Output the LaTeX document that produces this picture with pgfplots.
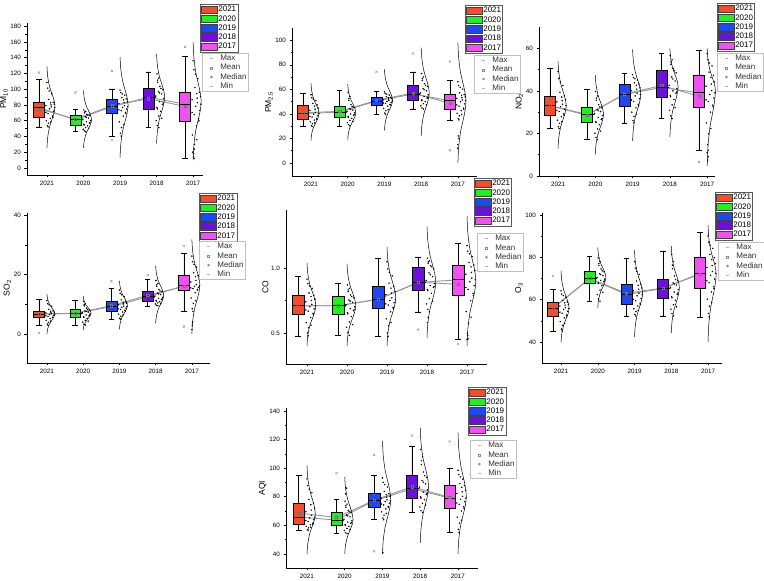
\documentclass[border=0pt]{standalone}
\usepackage{fontspec}
\setmainfont{Liberation Sans}
\usepackage{pgfplots}
\pgfplotsset{compat=1.18}
\usepgfplotslibrary{statistics}
\usepackage{pgfplotstable}

\definecolor{c21}{RGB}{243,77,45}
\definecolor{c20}{RGB}{32,240,32}
\definecolor{c19}{RGB}{32,72,240}
\definecolor{c18}{RGB}{108,16,220}
\definecolor{c17}{RGB}{240,82,240}
\definecolor{lnk}{RGB}{150,150,150}

% half-violin outlines (x = category + bulge)
\pgfplotstableread{
x pm10 pm25 no2 so2 co o3 aqi
1.00 25.5 18.4 12.9 0 0.404 39.7 40
1.02 38.6 23.8 17.9 1.7 0.48 43.8 47
1.07 51.75 29.2 22.95 3.35 0.557 47.85 54
1.13 60.5 32.8 26.3 4.5 0.608 50.6 58.7
1.19 69.25 36.4 29.65 5.6 0.659 53.3 63.3
1.22 78 40 33 6.7 0.71 56 68
1.19 86.5 44.15 36.5 7.8 0.765 58.9 73.65
1.13 95 48.3 40 8.9 0.82 61.8 79.3
1.07 103.5 52.45 43.5 10.05 0.875 64.75 84.95
1.02 116.25 58.7 48.75 11.7 0.957 69.1 93.4
1.00 129 64.9 54 13.4 1.039 73.5 101.9
nan nan nan nan nan nan nan nan
2.00 25.5 19 10.2 1.3 0.40 56.1 40
2.02 34.4 24.5 14.9 2.7 0.478 59.7 46
2.07 43.25 30 19.6 4.15 0.555 63.3 52
2.13 49.2 33.7 22.7 5.1 0.607 65.7 56
2.19 55.1 37.3 25.9 6.05 0.658 68.1 60
2.22 61 41 29 7 0.71 70.5 64
2.19 67.2 44.9 32.1 7.97 0.764 72.9 68.95
2.13 73.3 48.8 35.1 8.93 0.818 75.2 73.9
2.07 79.5 52.65 38.2 9.9 0.872 77.6 78.85
2.02 88.75 58.5 42.8 11.35 0.953 81.15 86.3
2.00 98 64.3 47.4 12.8 1.034 84.7 93.7
nan nan nan nan nan nan nan nan
3.00 13 26.5 16.5 1.6 0.40 42.4 40
3.02 29.75 32.6 22 3.6 0.4925 47.55 49.5
3.07 46.5 38.75 27.5 5.55 0.585 52.7 59
3.13 57.7 42.8 31.2 6.9 0.647 56.1 65.3
3.19 68.8 46.9 34.8 8.2 0.708 59.6 71.7
3.22 80 51 38.5 9.5 0.77 63 78
3.19 90.2 55.2 42 10.9 0.8355 66.4 84.8
3.13 100.3 59.4 45.5 12.3 0.901 69.8 91.7
3.07 110.5 63.6 49 13.7 0.9665 73.2 98.5
3.02 125.75 69.9 54.25 15.8 1.065 78.3 108.75
3.00 141 76.2 59.5 17.9 1.163 83.4 119
nan nan nan nan nan nan nan nan
4.00 31 22 18.4 3.6 0.464 44.3 47.7
4.02 45.75 30.75 24.3 5.95 0.5705 49.6 57.5
4.07 60.5 39.5 30.2 8.3 0.677 54.9 67.35
4.13 70.3 45.3 34.1 9.9 0.748 58.4 73.9
4.19 80.2 51.2 38.1 11.4 0.819 62 80.45
4.22 90 57 42 13 0.89 65.5 87
4.19 99.1 63.2 45 14.65 0.9615 68.8 93.8
4.13 108.2 69.3 48 16.3 1.033 72.1 100.7
4.07 117.4 75.5 51 17.95 1.1045 75.4 107.5
4.02 131 84.75 55.5 20.4 1.212 80.35 117.75
4.00 144.7 94 60 22.9 1.319 85.3 128
nan nan nan nan nan nan nan nan
5.00 10 0 4.6 0 0.40 40 40
5.02 28.5 12.5 13.45 4.1 0.525 48 50
5.07 47 25 22.3 8.25 0.65 56 60
5.13 59.3 33.3 28.2 11 0.733 61.3 66.7
5.19 71.7 41.7 34.1 13.75 0.817 66.7 73.3
5.22 84 50 40 16.5 0.9 72 80
5.19 96.7 58 43.3 19.05 0.983 75.9 87.5
5.13 109.3 66 46.7 21.6 1.067 79.8 95
5.07 122 74 50 24.15 1.15 83.65 102.5
5.02 141 86 55 28 1.275 89.5 113.75
5.00 160 98 60 31.8 1.40 95.3 125
}\curvetab

% scattered observations
\pgfplotstableread{
x pm10 pm25 no2 so2 co o3 aqi
1.01 53.5 30.5 23.1 3.3 0.50 46.1 57.1
1.04 56.6 32.0 24.7 3.9 0.54 47.9 58.2
0.98 59.7 33.5 26.2 4.6 0.58 49.6 59.3
1.09 62.8 35.0 27.8 5.2 0.62 51.4 60.4
1.15 65.8 36.3 29.2 5.65 0.651 52.7 61.5
1.03 68.9 37.4 30.3 5.95 0.668 53.6 62.7
1.18 72.0 38.6 31.4 6.25 0.685 54.5 64.0
1.07 75.1 39.7 32.5 6.55 0.702 55.4 65.2
1.12 77.5 41.2 33.7 6.84 0.72 56.2 67.0
0.97 79.2 42.9 34.8 7.1 0.74 57.0 69.5
1.20 80.9 44.7 36.0 7.4 0.76 57.7 71.9
1.10 82.6 46.4 37.1 7.66 0.78 58.5 74.4
1.05 87.0 48.5 39.3 8.3 0.808 59.65 78.0
1.13 94.1 50.9 42.5 9.3 0.844 61.15 82.8
1.02 101.3 53.2 45.8 10.2 0.879 62.65 87.7
1.00 108.4 55.6 49.0 11.2 0.915 64.15 92.5
2.02 47.1 31.2 18.1 3.3 0.503 60.3 54.9
1.99 49.2 32.9 20.1 4.0 0.544 62.4 56.4
2.06 51.3 34.7 22.1 4.6 0.586 64.5 57.8
2.11 53.4 36.4 24.1 5.3 0.627 66.6 59.3
2.01 55.3 37.8 25.6 5.76 0.656 67.9 60.5
2.16 56.9 38.8 26.5 6.1 0.671 68.5 61.4
2.08 58.6 39.9 27.5 6.4 0.687 69.1 62.3
2.19 60.2 40.9 28.4 6.74 0.702 69.7 63.2
1.98 61.8 42.0 29.4 7.08 0.719 70.45 64.4
2.14 63.3 43.1 30.3 7.4 0.736 71.35 65.9
2.05 64.9 44.3 31.2 7.8 0.754 72.25 67.3
2.17 66.4 45.4 32.1 8.1 0.771 73.15 68.8
2.09 68.1 47.6 33.5 8.7 0.793 74.5 70.6
2.03 69.9 50.9 35.6 9.5 0.819 76.2 72.7
2.06 71.8 54.1 37.6 10.2 0.844 78.0 74.8
2.01 73.6 57.4 39.7 11.0 0.870 79.7 76.9
3.01 44.0 40.7 26.0 5.3 0.501 53.0 65.1
3.04 51.3 42.6 28.0 6.0 0.555 54.3 67.2
2.98 58.5 44.5 30.0 6.7 0.609 55.7 69.4
3.09 65.8 46.4 32.0 7.4 0.663 57.0 71.5
3.15 70.5 47.7 33.7 8.0 0.698 58.3 73.2
3.03 72.6 48.5 35.0 8.3 0.715 59.5 74.3
3.18 74.7 49.3 36.3 8.7 0.733 60.6 75.5
3.07 76.8 50.1 37.6 9.0 0.750 61.8 76.6
3.12 79.1 50.9 38.9 9.4 0.771 63.0 77.8
2.97 81.6 51.6 40.1 9.8 0.796 64.2 79.0
3.20 84.0 52.4 41.4 10.3 0.820 65.5 80.3
3.10 86.5 53.1 42.6 10.7 0.845 66.7 81.5
3.05 89.3 54.1 43.8 11.5 0.884 68.8 83.7
3.13 92.5 55.4 45.1 12.6 0.939 71.9 86.8
3.02 95.6 56.7 46.3 13.7 0.993 74.9 90.0
3.00 98.8 58.0 47.6 14.8 1.048 78.0 93.1
4.02 54.0 44.9 28.3 9.7 0.683 53.4 70.3
3.99 60.0 46.6 30.8 10.1 0.724 55.5 72.8
4.06 65.9 48.3 33.4 10.5 0.765 57.6 75.4
4.11 71.9 50.0 35.9 10.9 0.806 59.7 77.9
4.01 76.8 51.5 37.8 11.3 0.834 61.4 79.9
4.16 80.5 52.8 38.9 11.6 0.850 62.5 81.5
4.08 84.2 54.2 40.0 12.0 0.865 63.6 83.2
4.19 88.0 55.5 41.1 12.3 0.881 64.7 84.8
3.98 91.2 57.1 42.6 12.75 0.904 65.8 86.7
4.14 94.0 58.8 44.6 13.25 0.934 66.9 89.0
4.05 96.7 60.6 46.5 13.75 0.963 67.9 91.3
4.17 99.5 62.3 48.5 14.25 0.993 69.0 93.6
4.09 103.5 64.6 50.5 15.0 1.018 71.2 97.3
4.03 108.8 67.4 52.5 16.0 1.037 74.6 102.5
4.06 114.1 70.1 54.6 17.0 1.056 77.9 107.8
4.01 119.4 72.9 56.6 18.0 1.075 81.3 113.0
5.01 18.0 36.2 14.7 8.5 0.498 53.5 57.2
5.04 29.9 38.4 19.8 10.3 0.575 56.9 61.5
4.98 41.8 40.5 24.9 12.1 0.665 60.2 65.7
5.09 53.7 42.7 30.0 13.9 0.748 63.6 70.0
5.15 62.3 44.7 33.3 15.0 0.805 66.2 73.0
5.03 67.6 46.4 35.0 15.3 0.835 68.0 74.7
5.18 72.9 48.2 36.6 15.7 0.864 69.7 76.5
5.07 78.2 49.9 38.3 16.0 0.894 71.5 78.2
5.12 82.8 51.4 40.1 16.6 0.923 73.3 80.2
4.97 86.6 52.6 42.2 17.5 0.952 75.2 82.3
5.20 90.5 53.9 44.2 18.4 0.980 77.0 84.5
5.10 94.3 55.1 46.3 19.3 1.009 78.9 86.6
5.05 101.9 57.2 48.8 20.6 1.044 81.3 89.2
5.13 113.3 60.2 51.7 22.5 1.087 84.2 92.3
5.02 124.6 63.1 54.6 24.3 1.130 87.2 95.4
5.00 136.0 66.1 57.5 26.2 1.173 90.1 98.5
1.03 52 29.7 22.3 3 0.479 45.2 56.5
1.10 58.2 32.7 25.5 4.3 0.561 48.8 58.7
1.16 64.3 35.7 28.6 5.5 0.643 52.3 60.9
0.97 70.5 38.0 30.9 6.1 0.677 54.1 63.4
1.21 76.6 40.3 33.1 6.7 0.71 55.8 65.8
1.11 80.0 43.8 35.4 7.3 0.75 57.4 70.7
1.17 83.4 47.3 37.7 7.8 0.79 58.9 75.6
1.06 97.7 52.1 44.2 9.8 0.862 61.9 85.3
2.06 46 30.3 17.1 3 0.482 59.3 54.2
2.14 50.3 33.8 21.1 4.3 0.565 63.5 57.1
2.02 54.5 37.3 25.1 5.6 0.648 67.6 60
2.18 57.8 39.4 27 6.3 0.679 68.8 61.9
1.96 61 41.4 28.9 6.9 0.71 70 63.7
2.08 64.1 43.7 30.7 7.6 0.745 71.8 66.6
2.12 67.2 46 32.5 8.3 0.78 73.6 69.5
2.03 70.9 52.5 36.6 9.9 0.832 77.1 73.7
3.03 40.4 39.7 25 4.9 0.474 52.3 64
3.10 54.9 43.5 29 6.4 0.582 55 68.3
3.16 69.4 47.3 33 7.8 0.689 57.7 72.6
2.97 73.7 48.9 35.7 8.5 0.724 60.1 74.9
3.21 77.9 50.5 38.3 9.2 0.759 62.4 77.2
3.11 82.8 52 40.8 10.1 0.808 64.9 79.7
3.17 87.7 53.5 43.2 10.9 0.857 67.3 82.1
3.06 94.1 56.1 45.7 13.2 0.966 73.4 88.4
4.06 51 44 27 9.5 0.663 52.3 69
4.14 63 47.4 32.1 10.3 0.745 56.6 74.1
4.02 74.9 50.8 37.2 11.1 0.826 60.8 79.1
4.18 82.4 53.5 39.4 11.8 0.858 63.1 82.4
3.96 89.8 56.2 41.6 12.5 0.889 65.3 85.6
4.08 95.4 59.7 45.6 13.5 0.949 67.4 90.2
4.12 100.9 63.2 49.5 14.5 1.008 69.5 94.7
4.03 111.5 68.8 53.6 16.5 1.047 76.3 105.2
5.03 12 35.1 12.1 7.6 0.456 51.8 55.1
5.10 35.8 39.5 22.3 11.2 0.623 58.6 63.6
5.16 59.6 43.8 32.5 14.8 0.79 65.3 72.1
4.97 70.3 47.3 35.8 15.5 0.85 68.9 75.6
5.21 80.9 50.8 39.1 16.2 0.909 72.4 79.1
5.11 88.6 53.3 43.2 18 0.966 76.1 83.4
5.17 96.2 55.7 47.3 19.7 1.023 79.8 87.7
5.06 119 61.7 53.1 23.4 1.109 85.7 93.9
}\dottab

\pgfplotsset{
  panel/.style={scale only axis, anchor=south west, clip=false,
    axis lines=left, axis line style={-, line width=0.6pt},
    xtick={1,2,3,4,5}, xticklabels={2021,2020,2019,2018,2017},
    tick align=outside, major tick length=2.5pt, minor tick length=1.5pt,
    tick style={line width=0.5pt, black}, minor y tick num=1,
    ticklabel style={font=\fontsize{6.3}{7}\selectfont},
    /pgf/number format/assume math mode=true,
    ylabel style={font=\fontsize{8.5}{9}\selectfont}, ylabel shift=-4pt,
    legend cell align=left,
    legend image code/.code={\draw[##1] (0pt,-3.7pt) rectangle (16pt,3.7pt);},
    legend style={anchor=north west, font=\fontsize{8}{9}\selectfont, draw=black!65, fill=white, line width=0.5pt,
      inner xsep=1pt, inner ysep=0.6pt, row sep=0pt,
      nodes={inner sep=0.6pt, text height=6.3pt, text depth=1.8pt},
      /tikz/every even column/.append style={column sep=2pt}},
    legend entries={2021,2020,2019,2018,2017}},
  lnkline/.style={lnk, line width=0.9pt},
  crv/.style={black, line width=0.5pt, smooth, tension=0.55, unbounded coords=jump},
  dts/.style={only marks, mark=*, mark size=0.5pt, mark options={draw=none, fill=black}},
  mn/.style={only marks, mark=square, mark size=1.1pt, mark options={draw=black!55, line width=0.4pt, fill=none}},
}

\newcommand\legone{\addlegendimage{fill=c21,draw=black!75}\addlegendimage{fill=c20,draw=black!75}\addlegendimage{fill=c19,draw=black!75}\addlegendimage{fill=c18,draw=black!75}\addlegendimage{fill=c17,draw=black!75}}

\newcommand\bx[7]{\addplot[draw=black, line width=0.5pt, fill=#1, boxplot prepared={draw direction=y, draw position=#2, lower whisker=#3, lower quartile=#4, median=#5, upper quartile=#6, upper whisker=#7, box extend=0.3, whisker extend=0.15, every median/.style={line width=0.9pt}}] coordinates {};}
\newcommand\bxo[8]{\addplot[draw=black, line width=0.5pt, fill=#1, mark=x, mark size=1.5pt, mark options={draw=black!45, line width=0.4pt}, boxplot prepared={draw direction=y, draw position=#2, lower whisker=#3, lower quartile=#4, median=#5, upper quartile=#6, upper whisker=#7, box extend=0.3, whisker extend=0.15, every median/.style={line width=0.9pt}}] table[row sep=\\, y index=0] {data\\ #8};}

\newcommand\legtwo[6]{%
\begin{axis}[scale only axis, anchor=south west, at={(#1pt,#2pt)}, width=#3pt, height=#4pt, hide axis,
  xmin=0, xmax=1, ymin=0, ymax=1, legend cell align=left,
  legend style={at={(#5,#6)}, anchor=north west, font=\fontsize{8}{9}\selectfont, text=black!80, draw=black!25, fill=white, line width=0.5pt,
    inner xsep=1pt, inner ysep=0.6pt, row sep=0pt,
    nodes={inner sep=0.6pt, text height=6.3pt, text depth=1.8pt},
    /tikz/every even column/.append style={column sep=2pt}},
  legend entries={Max,Mean,Median,Min}]
\addlegendimage{legend image code/.code={\path (0pt,0pt) (16pt,0pt);\draw[black!30,line width=0.4pt] (6.8pt,0pt)--(9.2pt,0pt);}}
\addlegendimage{legend image code/.code={\path (0pt,0pt) (16pt,0pt);\draw[black!45,line width=0.4pt] (7pt,-1pt) rectangle (9pt,1pt);}}
\addlegendimage{legend image code/.code={\path (0pt,0pt) (16pt,0pt);\fill[black!45] (8pt,0pt) circle (1pt);}}
\addlegendimage{legend image code/.code={\path (0pt,0pt) (16pt,0pt);\draw[black!30,line width=0.4pt] (6.8pt,0pt)--(9.2pt,0pt);}}
\end{axis}}

\begin{document}
\begin{tikzpicture}
\useasboundingbox (0pt,0pt) rectangle (764pt,581pt);
\clip (0pt,0pt) rectangle (764pt,581pt);

% ---------------- PM10 ----------------
\begin{axis}[panel, at={(27pt,406pt)}, width=176pt, height=152pt,
  xmin=0.454, xmax=5.27, ymin=-9, ymax=184, ytick={0,20,...,180},
  ylabel={PM\textsubscript{10}}, legend style={at={(0.983,1.125)}}]
\legone
\addplot[lnkline] coordinates {(0.78,75) (1.78,62) (2.78,79) (3.78,88) (4.78,78)};
\addplot[lnkline] coordinates {(0.78,76.6) (1.78,61) (2.78,77.9) (3.78,89.8) (4.78,80.9)};
\addplot[crv] table[x=x, y=pm10] {\curvetab};
\addplot[dts] table[x=x, y=pm10] {\dottab};
\addplot[dts] coordinates {(5.01,14) (4.99,20) (5.03,24)};
\bxo{c21}{0.78}{52}{64.3}{76.6}{83.4}{112}{121\\}
\bxo{c20}{1.78}{46}{54.5}{61}{67.2}{74.5}{95.7\\}
\bxo{c19}{2.78}{40.4}{69.4}{77.9}{87.7}{100.4}{35.3\\ 123\\}
\bx{c18}{3.78}{51}{74.9}{89.8}{100.9}{122}
\bxo{c17}{4.78}{12}{59.6}{80.9}{96.2}{141.7}{153.6\\}
\addplot[mn] coordinates {(0.78,75) (1.78,62) (2.78,79) (3.78,88) (4.78,78)};
\end{axis}
\legtwo{27}{406}{176}{152}{0.994}{0.803}

% ---------------- PM2.5 ----------------
\begin{axis}[panel, at={(292pt,405pt)}, width=185pt, height=148pt,
  xmin=0.483, xmax=5.52, ymin=-10.6, ymax=110, ytick={0,20,...,100},
  ylabel={PM\textsubscript{2.5}}, legend style={at={(0.935,1.155)}}]
\legone
\addplot[lnkline] coordinates {(0.78,41) (1.78,42) (2.78,51) (3.78,57) (4.78,48.6)};
\addplot[lnkline] coordinates {(0.78,40.3) (1.78,41.4) (2.78,50.5) (3.78,56.2) (4.78,50.8)};
\addplot[crv] table[x=x, y=pm25] {\curvetab};
\addplot[dts] table[x=x, y=pm25] {\dottab};
\addplot[dts] coordinates {(5.00,15) (5.02,20) (5.01,22) (4.99,12)};
\bx{c21}{0.78}{29.7}{35.7}{40.3}{47.3}{56.8}
\bx{c20}{1.78}{30.3}{37.3}{41.4}{46}{59}
\bxo{c19}{2.78}{39.7}{47.3}{50.5}{53.5}{58.6}{74.3\\}
\bxo{c18}{3.78}{44}{50.8}{56.2}{63.2}{74.3}{89.2\\}
\bxo{c17}{4.78}{35.1}{43.8}{50.8}{55.7}{67.6}{10.3\\ 82.7\\}
\addplot[mn] coordinates {(0.78,41) (1.78,42) (2.78,51) (3.78,57) (4.78,48.6)};
\end{axis}
\legtwo{292}{405}{185}{148}{0.984}{0.818}

% ---------------- NO2 ----------------
\begin{axis}[panel, at={(539pt,405pt)}, width=176pt, height=149pt,
  xmin=0.49, xmax=5.21, ymin=0, ymax=70, ytick={0,20,40,60},
  ylabel={NO\textsubscript{2}}, legend style={at={(1.011,1.161)}}]
\legone
\addplot[lnkline] coordinates {(0.78,33) (1.78,28.5) (2.78,38.5) (3.78,42.5) (4.78,37.5)};
\addplot[lnkline] coordinates {(0.78,33.1) (1.78,28.9) (2.78,38.3) (3.78,41.6) (4.78,39.1)};
\addplot[crv] table[x=x, y=no2] {\curvetab};
\addplot[dts] table[x=x, y=no2] {\dottab};
\addplot[dts] coordinates {(5.01,7.5) (5.03,9) (5.00,11)};
\bx{c21}{0.78}{22.3}{28.6}{33.1}{37.7}{50.6}
\bx{c20}{1.78}{17.1}{25.1}{28.9}{32.5}{40.7}
\bx{c19}{2.78}{25}{33}{38.3}{43.2}{48.2}
\bx{c18}{3.78}{27}{37.2}{41.6}{49.5}{57.6}
\bxo{c17}{4.78}{12.1}{32.5}{39.1}{47.3}{58.9}{6.6\\}
\addplot[mn] coordinates {(0.78,33) (1.78,28.5) (2.78,38.5) (3.78,42.5) (4.78,37.5)};
\end{axis}
\legtwo{539}{405}{176}{149}{1.011}{0.826}

% ---------------- SO2 ----------------
\begin{axis}[panel, at={(27pt,218pt)}, width=183pt, height=150pt,
  xmin=0.45, xmax=5.5, ymin=-9.75, ymax=40.7, ytick={0,20,40},
  ylabel={SO\textsubscript{2}}, legend style={at={(0.94,1.133)}}]
\legone
\addplot[lnkline] coordinates {(0.78,6.7) (1.78,7) (2.78,9.5) (3.78,13) (4.78,16)};
\addplot[lnkline] coordinates {(0.78,6.7) (1.78,6.9) (2.78,9.2) (3.78,12.5) (4.78,16.2)};
\addplot[crv] table[x=x, y=so2] {\curvetab};
\addplot[dts] table[x=x, y=so2] {\dottab};
\addplot[dts] coordinates {(5.01,3) (5.02,4) (5.00,1.5)};
\bxo{c21}{0.78}{3}{5.5}{6.7}{7.8}{11.7}{0.4\\}
\bx{c20}{1.78}{3}{5.6}{6.9}{8.3}{11.4}
\bxo{c19}{2.78}{4.9}{7.8}{9.2}{10.9}{15.4}{17.8\\}
\bxo{c18}{3.78}{9.5}{11.1}{12.5}{14.5}{18.5}{19.8\\}
\bxo{c17}{4.78}{7.6}{14.8}{16.2}{19.7}{27.1}{2.5\\ 29.7\\}
\addplot[mn] coordinates {(0.78,6.7) (1.78,7) (2.78,9.5) (3.78,13) (4.78,16)};
\end{axis}
\legtwo{27}{218}{183}{150}{0.94}{0.813}

% ---------------- CO ----------------
\begin{axis}[panel, at={(286pt,217pt)}, width=201pt, height=154pt,
  xmin=0.475, xmax=5.5, ymin=0.262, ymax=1.446, ytick={0.5,1.0},
  yticklabel style={/pgf/number format/.cd, fixed, fixed zerofill, precision=1},
  ylabel={CO}, legend style={at={(0.935,1.208)}}]
\legone
\addplot[lnkline] coordinates {(0.78,0.71) (1.78,0.71) (2.78,0.76) (3.78,0.89) (4.78,0.875)};
\addplot[lnkline] coordinates {(0.78,0.71) (1.78,0.71) (2.78,0.759) (3.78,0.889) (4.78,0.909)};
\addplot[crv] table[x=x, y=co] {\curvetab};
\addplot[dts] table[x=x, y=co] {\dottab};
\addplot[dts] coordinates {(4.01,0.58) (4.03,0.62) (5.00,0.45) (5.02,0.48)};
\bx{c21}{0.78}{0.479}{0.643}{0.71}{0.79}{0.933}
\bx{c20}{1.78}{0.482}{0.648}{0.71}{0.78}{0.883}
\bx{c19}{2.78}{0.474}{0.689}{0.759}{0.857}{1.075}
\bxo{c18}{3.78}{0.663}{0.826}{0.889}{1.008}{1.085}{0.526\\}
\bxo{c17}{4.78}{0.456}{0.79}{0.909}{1.023}{1.194}{0.417\\}
\addplot[mn] coordinates {(0.78,0.71) (1.78,0.71) (2.78,0.76) (3.78,0.89) (4.78,0.875)};
\end{axis}
\legtwo{286}{217}{201}{154}{0.95}{0.85}

% ---------------- O3 ----------------
\begin{axis}[panel, at={(542pt,218pt)}, width=180pt, height=150pt,
  xmin=0.483, xmax=5.38, ymin=30.1, ymax=100.9, ytick={40,60,80,100},
  ylabel={O\textsubscript{3}}, legend style={at={(0.961,1.14)}}]
\legone
\addplot[lnkline] coordinates {(0.78,56) (1.78,70) (2.78,63) (3.78,65.5) (4.78,72)};
\addplot[lnkline] coordinates {(0.78,55.8) (1.78,70) (2.78,62.4) (3.78,65.3) (4.78,72.4)};
\addplot[crv] table[x=x, y=o3] {\curvetab};
\addplot[dts] table[x=x, y=o3] {\dottab};
\bxo{c21}{0.78}{45.2}{52.3}{55.8}{58.9}{64.9}{71.1\\}
\bx{c20}{1.78}{59.3}{67.6}{70}{73.6}{80.6}
\bx{c19}{2.78}{52.3}{57.7}{62.4}{67.3}{79.5}
\bx{c18}{3.78}{52.3}{60.8}{65.3}{69.5}{83}
\bx{c17}{4.78}{51.8}{65.3}{72.4}{79.8}{91.6}
\addplot[mn] coordinates {(0.78,56) (1.78,70) (2.78,63) (3.78,65.5) (4.78,72)};
\end{axis}
\legtwo{542}{218}{180}{150}{0.978}{0.807}

% ---------------- AQI ----------------
\begin{axis}[panel, at={(286pt,13pt)}, width=192pt, height=160pt,
  xmin=0.444, xmax=5.53, ymin=30.2, ymax=142, ytick={40,60,...,140},
  ylabel={AQI}, legend style={at={(0.948,1.131)}}]
\legone
\addplot[lnkline] coordinates {(0.78,68.6) (1.78,65.5) (2.78,77.5) (3.78,87) (4.78,79.5)};
\addplot[lnkline] coordinates {(0.78,65.8) (1.78,63.7) (2.78,77.2) (3.78,85.6) (4.78,79.1)};
\addplot[crv] table[x=x, y=aqi] {\curvetab};
\addplot[dts] table[x=x, y=aqi] {\dottab};
\addplot[dts] coordinates {(2.02,82) (2.05,86) (3.01,41)};
\bx{c21}{0.78}{56.5}{60.9}{65.8}{75.6}{94.9}
\bxo{c20}{1.78}{54.2}{60}{63.7}{69.5}{77.9}{96.5\\}
\bxo{c19}{2.78}{64}{72.6}{77.2}{82.1}{94.7}{41.9\\ 109.3\\}
\bxo{c18}{3.78}{69}{79.1}{85.6}{94.7}{115.6}{122.8\\}
\bxo{c17}{4.78}{55.1}{72.1}{79.1}{87.7}{100}{118.6\\}
\addplot[mn] coordinates {(0.78,68.6) (1.78,65.5) (2.78,77.5) (3.78,87) (4.78,79.5)};
\end{axis}
\legtwo{286}{13}{192}{160}{0.958}{0.8}
\end{tikzpicture}
\end{document}
